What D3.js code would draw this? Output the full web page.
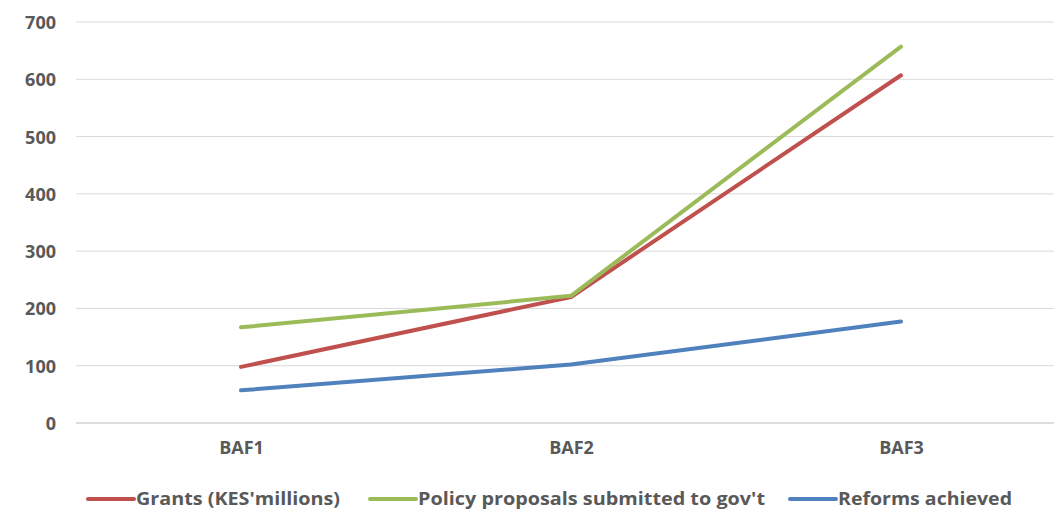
<!DOCTYPE html>
<html><head><meta charset="utf-8">
<script src="https://cdn.jsdelivr.net/npm/d3@7"></script>
<style>body{margin:0;background:#fff}svg{display:block}text{font-family:"Open Sans",sans-serif;font-weight:700;fill:#595959}</style>
</head><body><svg id="c" width="1054" height="511"></svg>
<script>
const categories = ["BAF1","BAF2","BAF3"];
const grants = [98, 220, 607];
const policy = [167, 222, 657];
const reforms = [57, 102, 177];
const seriesNames = ["Grants (KES'millions)","Policy proposals submitted to gov't","Reforms achieved"];
const seriesColors = ["#C0504D","#9BBB59","#4F81BD"];
const yTicks = [0,100,200,300,400,500,600,700];

const svg = d3.select("#c");
const x = d3.scalePoint().domain(categories).range([76,1066]).padding(0.5);
const y = d3.scaleLinear().domain([0,700]).range([423,22]);

const grid = svg.append("g");
grid.selectAll("line").data(yTicks).join("line")
  .attr("x1",76).attr("x2",1054)
  .attr("y1",d=>y(d)).attr("y2",d=>y(d))
  .attr("stroke",d=>d===0?"#d0d0d0":"#d9d9d9").attr("stroke-width",d=>d===0?1.5:1);

const yAxis = svg.append("g").attr("transform","translate(56,0)")
  .call(d3.axisLeft(y).tickValues(yTicks).tickSize(0).tickPadding(0));
yAxis.select(".domain").remove();
yAxis.selectAll("text").style("font-size","18px").attr("dy","0.36em").style("font-family","Open Sans").style("fill","#595959");

const xAxis = svg.append("g").attr("transform","translate(0,440)")
  .call(d3.axisBottom(x).tickSize(0).tickPadding(0));
xAxis.select(".domain").remove();
xAxis.selectAll("text").style("font-size","18px").attr("dy","0.78em").style("font-family","Open Sans").style("fill","#595959");

const data = [grants, policy, reforms];
const line = d3.line().x((d,i)=>x(categories[i])).y(d=>y(d));
svg.append("g").selectAll("path").data(data).join("path")
  .attr("d",line).attr("fill","none")
  .attr("stroke",(d,i)=>seriesColors[i]).attr("stroke-width",4)
  .attr("stroke-linecap","round").attr("stroke-linejoin","round");

const legX = [88, 370, 790];
const leg = svg.append("g");
seriesNames.forEach((n,i)=>{
  leg.append("line").attr("x1",legX[i]).attr("x2",legX[i]+46).attr("y1",499).attr("y2",499)
    .attr("stroke",seriesColors[i]).attr("stroke-width",4).attr("stroke-linecap","round");
  leg.append("text").attr("x",legX[i]+48).attr("y",499).attr("dy","0.35em")
    .style("font-size","18px").attr("textLength", [204,347,174][i]).attr("lengthAdjust","spacingAndGlyphs").text(n);
});
</script></body></html>
